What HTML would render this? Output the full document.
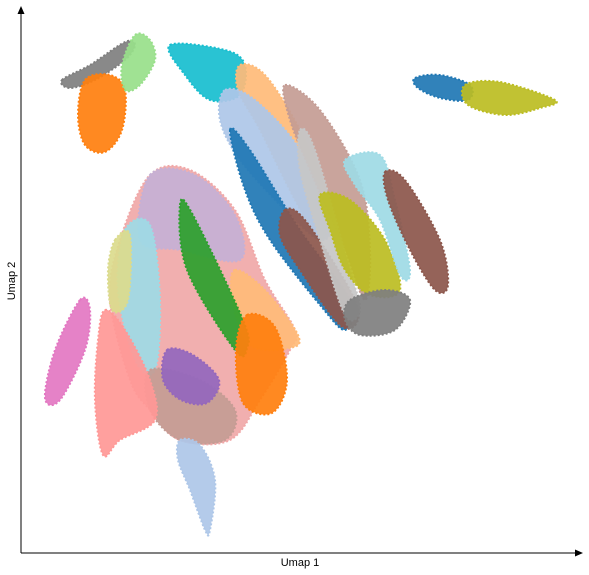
<!DOCTYPE html>
<html><head><meta charset="utf-8"><style>
html,body{margin:0;padding:0;background:#fff;}
svg{display:block;font-family:"Liberation Sans",sans-serif;}
</style></head><body>
<svg id="chart" width="589" height="575" viewBox="0 0 589 575" xmlns="http://www.w3.org/2000/svg">
<g id="clusters"></g>
<g>
<line x1="21" y1="553" x2="578" y2="553" stroke="#000" stroke-width="1"/>
<polygon points="583,553 575,549.5 575,556.5" fill="#000"/>
<line x1="21" y1="553" x2="21" y2="12" stroke="#000" stroke-width="1"/>
<polygon points="21,6 17.5,14 24.5,14" fill="#000"/>
<text x="300" y="566" font-size="11" text-anchor="middle">Umap 1</text>
<text x="15" y="281" font-size="11" text-anchor="middle" transform="rotate(-90 15 281)">Umap 2</text>
</g>
</svg>
<script>
// cluster outlines in UMAP units
const clusterNames = ["gray-top","orange-top","lightgreen-top","cyan-top","blue-right","olive-right","lightorange-band","lightblue-band","blue-band","tan-band","brown-band","lightgray-band","olive-mid","gray-bottom","lightcyan-band","brown-right","main-blob","lilac-upper","lightcyan-left","khaki-left","lightorange-right","green-stripe","orange-bottom","tan-bottom","purple-bottom","salmon-left","pink-left","lightblue-tail"];
const clusterColors = ["#7f7f7f","#ff7f0e","#98df8a","#17becf","#1f77b4","#bcbd22","#ffbb78","#aec7e8","#1f77b4","#c49c94","#8c564b","#c7c7c7","#bcbd22","#7f7f7f","#9edae5","#8c564b","#f0a8a8","#c5b0d5","#9edae5","#dbdb8d","#ffbb78","#2ca02c","#ff7f0e","#c49c94","#9467bd","#ff9896","#e377c2","#aec7e8"];
const clusterX = [
[41,69,104,114,104,74,49],
[64,89,104,101,84,64,57],
[114,129,134,119,104,101],
[149,204,224,219,189,164],
[394,419,449,447,419,397],
[444,479,534,519,484,447],
[219,244,279,309,299,274,239,217],
[204,234,279,309,299,264,219,199],
[209,229,279,329,324,299,249,224],
[264,299,339,349,344,324,289,269],
[264,284,329,337,319,279,259],
[279,294,329,339,324,299,279],
[299,329,364,379,349,324,309],
[329,364,389,374,339,324],
[324,359,374,389,379,359,334],
[364,384,419,427,414,389,367],
[129,169,214,244,274,269,239,209,159,129,109,89,99],
[129,174,214,219,159,119],
[104,129,139,134,114,97],
[94,109,107,91,87],
[214,244,277,269,229,211],
[159,172,222,226,214,166],
[226,254,266,251,222,215],
[129,179,214,204,159,129],
[146,172,198,186,160,142],
[84,104,129,134,99,82,74,77],
[59,69,64,39,24,34],
[159,179,194,189,184,169,157]
];
const clusterY = [
[473,488,511,508,493,473,465],
[473,478,463,423,401,408,438],
[518,513,493,468,463,488],
[508,503,488,458,453,478],
[475,478,468,453,455,465],
[468,471,453,445,438,448],
[488,478,423,353,313,353,423,463],
[463,453,403,333,313,343,393,433],
[423,403,323,253,223,248,313,363],
[468,443,373,303,253,303,383,433],
[343,333,263,233,228,283,318],
[423,403,283,243,238,313,383],
[358,353,313,263,258,283,323],
[253,263,253,223,218,233],
[393,398,353,283,278,333,368],
[381,373,313,268,263,303,353],
[378,383,343,273,223,203,153,113,113,143,173,253,313],
[378,378,338,293,303,313],
[323,328,253,183,193,263],
[313,318,253,243,283],
[283,263,218,205,208,253],
[348,338,233,205,203,283],
[238,226,173,140,150,203],
[183,173,143,113,113,143],
[203,198,173,150,153,173],
[243,223,173,133,113,98,153,213],
[253,243,203,153,155,203],
[113,108,73,23,23,63,93]
];
const xScale = v => 21 + v;
const yScale = v => 553 - v;
function smoothPath(pts){
  const n = pts.length; let d = "M" + pts[0][0].toFixed(1) + "," + pts[0][1].toFixed(1);
  for(let i=0;i<n;i++){
    const p0=pts[(i-1+n)%n],p1=pts[i],p2=pts[(i+1)%n],p3=pts[(i+2)%n];
    const c1=[p1[0]+(p2[0]-p0[0])/6,p1[1]+(p2[1]-p0[1])/6];
    const c2=[p2[0]-(p3[0]-p1[0])/6,p2[1]-(p3[1]-p1[1])/6];
    d+="C"+c1[0].toFixed(1)+","+c1[1].toFixed(1)+" "+c2[0].toFixed(1)+","+c2[1].toFixed(1)+" "+p2[0].toFixed(1)+","+p2[1].toFixed(1);
  }
  return d+"Z";
}
const g = document.getElementById("clusters");
const NS = "http://www.w3.org/2000/svg";
clusterNames.forEach((name,i)=>{
  const pts = clusterX[i].map((x,j)=>[xScale(x), yScale(clusterY[i][j])]);
  const p = document.createElementNS(NS,"path");
  p.setAttribute("d", smoothPath(pts));
  p.setAttribute("fill", clusterColors[i]);
  p.setAttribute("fill-opacity", "0.92");
  p.setAttribute("stroke", clusterColors[i]);
  p.setAttribute("stroke-width", "2");
  p.setAttribute("stroke-dasharray", "2 2");
  
  
  g.appendChild(p);
});
</script>
</body></html>
